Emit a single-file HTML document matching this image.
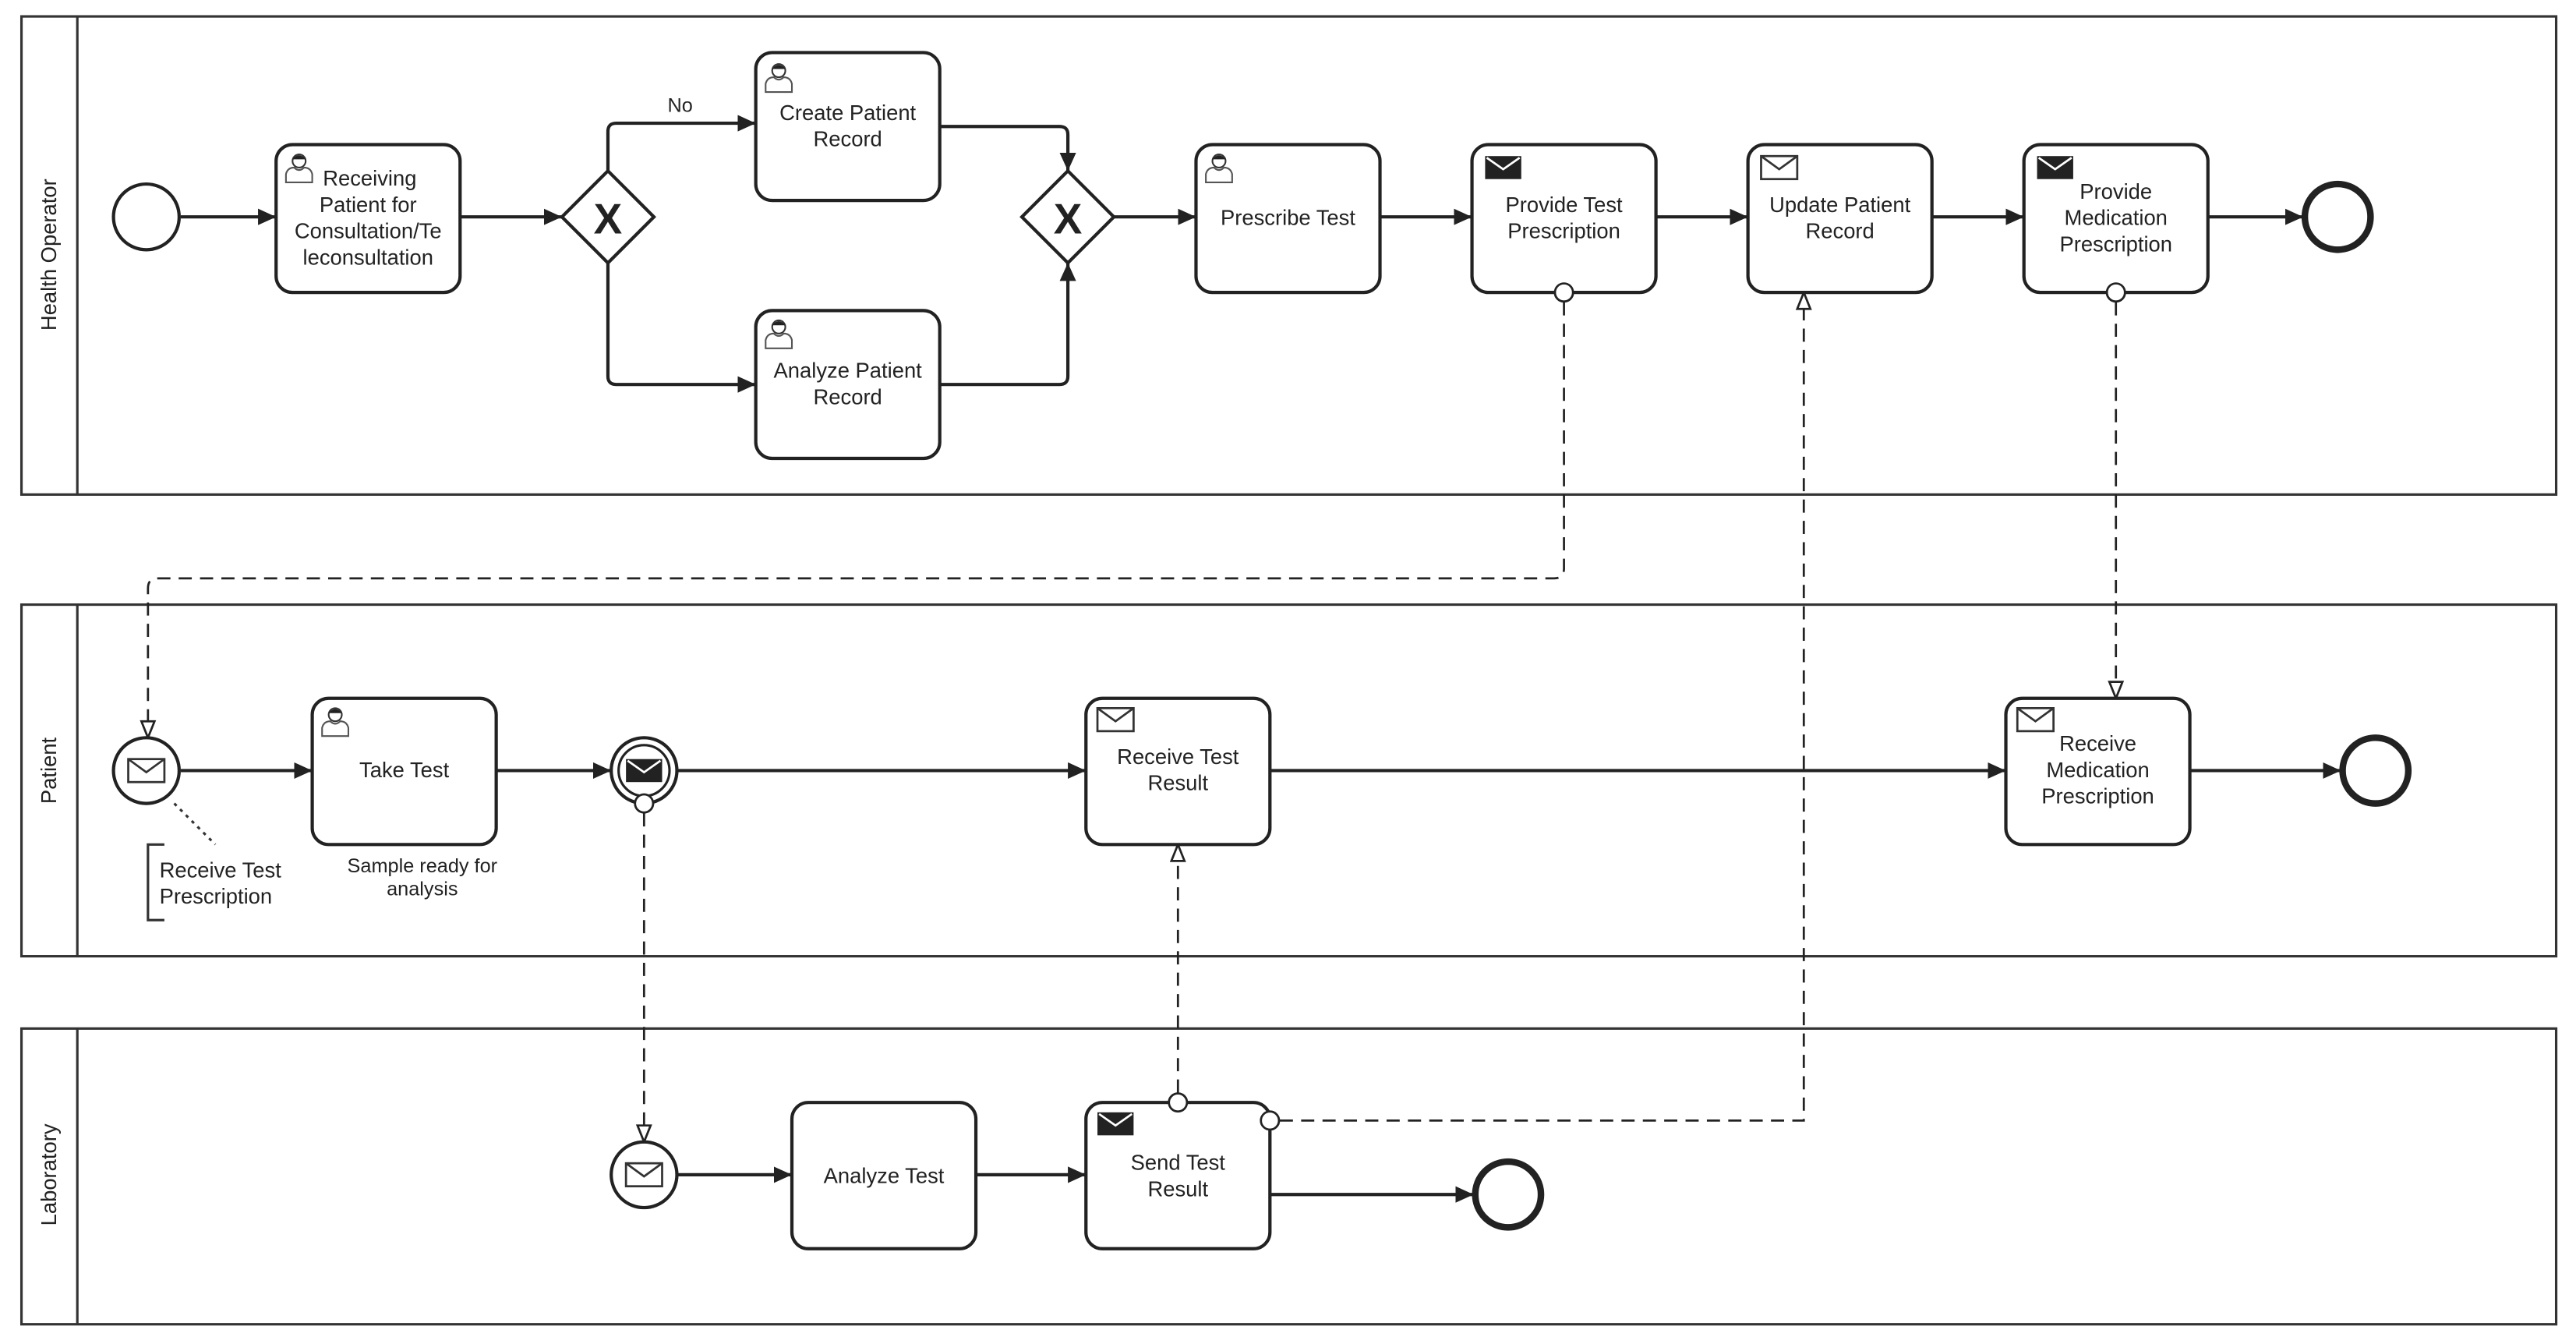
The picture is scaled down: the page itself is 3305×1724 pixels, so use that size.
<!DOCTYPE html>
<html><head><meta charset="utf-8"><style>
html,body{margin:0;padding:0;background:#fff}
svg{display:block}
text{font-family:"Liberation Sans",Arial,sans-serif;fill:#222}
</style></head><body>
<svg width="3305" height="1724" viewBox="0 0 1568 818" xmlns="http://www.w3.org/2000/svg">
<defs>
<marker id="a" markerWidth="12" markerHeight="12" refX="11" refY="6" orient="auto" markerUnits="userSpaceOnUse"><path d="M0,1 L11,6 L0,11 Z" fill="#222"/></marker>
<marker id="o" markerWidth="12" markerHeight="12" refX="11" refY="5" orient="auto" markerUnits="userSpaceOnUse"><path d="M1,1 L11,5 L1,9 Z" fill="#fff" stroke="#222" stroke-width="1.3"/></marker>
<g id="user"><circle cx="9" cy="6" r="4" fill="#fff" stroke="#333" stroke-width="1"/><path d="M5,5 Q9,0 13,5 Z" fill="#222"/><path d="M1,19 L1,14 Q2,10 6,10 Q9,13 12,10 Q16,10 17,14 L17,19 Z" fill="#fff" stroke="#555" stroke-width="1"/></g>
<g id="envf"><rect x="0" y="0" width="22" height="14" fill="#222"/><path d="M1,1 L11,8 L21,1" fill="none" stroke="#fff" stroke-width="1.3"/></g>
<g id="envo"><rect x="0" y="0" width="22" height="14" fill="#fff" stroke="#333" stroke-width="1.3"/><path d="M0,0 L11,8 L22,0" fill="none" stroke="#333" stroke-width="1.3"/></g>
</defs>
<g fill="none" stroke="#333" stroke-width="1.5">
<rect x="13" y="10" width="1543" height="291"/><line x1="47" y1="10" x2="47" y2="301"/>
<rect x="13" y="368" width="1543" height="214"/><line x1="47" y1="368" x2="47" y2="582"/>
<rect x="13" y="626" width="1543" height="180"/><line x1="47" y1="626" x2="47" y2="806"/>
</g>
<g font-size="13" text-anchor="middle">
<text transform="translate(34,155) rotate(-90)">Health Operator</text>
<text transform="translate(34,469) rotate(-90)">Patient</text>
<text transform="translate(34,715) rotate(-90)">Laboratory</text>
</g>
<!-- sequence flows -->
<g fill="none" stroke="#222" stroke-width="2" marker-end="url(#a)">
<path d="M110,132 H168"/><path d="M280,132 H342"/>
<path d="M370,104 V80 Q370,75 375,75 H460"/>
<path d="M370,160 V229 Q370,234 375,234 H460"/>
<path d="M572,77 H645 Q650,77 650,82 V104"/>
<path d="M572,234 H645 Q650,234 650,229 V160"/>
<path d="M678,132 H728"/><path d="M840,132 H896"/><path d="M1008,132 H1064"/><path d="M1176,132 H1232"/><path d="M1344,132 H1402"/>
<path d="M110,469 H190"/><path d="M302,469 H372"/><path d="M412,469 H661"/><path d="M773,469 H1221"/><path d="M1333,469 H1425"/>
<path d="M412,715 H482"/><path d="M594,715 H661"/><path d="M773,727 H897"/>
</g>
<text x="414" y="68" font-size="12" text-anchor="middle">No</text>
<!-- message flows -->
<g fill="none" stroke="#222" stroke-width="1.3" stroke-dasharray="8,5" marker-end="url(#o)">
<path d="M952,184 V346 Q952,352 946,352 H96 Q90,352 90,358 V449"/>
<path d="M779,682 H1098 V178"/>
<path d="M1288,184 V425"/>
<path d="M392,495 V695"/>
<path d="M717,665 V514"/>
</g>
<g fill="#fff" stroke="#222" stroke-width="1.3">
<circle cx="952" cy="178" r="5.5"/><circle cx="1288" cy="178" r="5.5"/><circle cx="773" cy="682" r="5.5"/><circle cx="392" cy="489" r="5.5"/><circle cx="717" cy="671" r="5.5"/>
</g>
<!-- events -->
<g fill="#fff" stroke="#222">
<circle cx="89" cy="132" r="20" stroke-width="2"/>
<circle cx="1423" cy="132" r="20" stroke-width="4"/>
<circle cx="89" cy="469" r="20" stroke-width="2"/>
<circle cx="392" cy="469" r="20" stroke-width="2"/>
<circle cx="392" cy="469" r="15.5" stroke-width="1.5"/>
<circle cx="1446" cy="469" r="20" stroke-width="4"/>
<circle cx="392" cy="715" r="20" stroke-width="2"/>
<circle cx="918" cy="727" r="20" stroke-width="4"/>
</g>
<circle cx="392" cy="489" r="5.5" fill="#fff" stroke="#222" stroke-width="1.3"/>
<use href="#envo" x="78" y="462"/><use href="#envf" x="381" y="462"/><use href="#envo" x="381" y="708"/>
<!-- gateways -->
<g fill="#fff" stroke="#222" stroke-width="2">
<path d="M370,104 L398,132 L370,160 L342,132 Z"/><path d="M650,104 L678,132 L650,160 L622,132 Z"/>
</g>
<g font-size="26" font-weight="bold" text-anchor="middle"><text x="370" y="142">X</text><text x="650" y="142">X</text></g>
<!-- tasks -->
<g fill="#fff" stroke="#222" stroke-width="2">
<rect x="168" y="88" width="112" height="90" rx="10"/>
<rect x="460" y="32" width="112" height="90" rx="10"/>
<rect x="460" y="189" width="112" height="90" rx="10"/>
<rect x="728" y="88" width="112" height="90" rx="10"/>
<rect x="896" y="88" width="112" height="90" rx="10"/>
<rect x="1064" y="88" width="112" height="90" rx="10"/>
<rect x="1232" y="88" width="112" height="90" rx="10"/>
<rect x="190" y="425" width="112" height="89" rx="10"/>
<rect x="661" y="425" width="112" height="89" rx="10"/>
<rect x="1221" y="425" width="112" height="89" rx="10"/>
<rect x="482" y="671" width="112" height="89" rx="10"/>
<rect x="661" y="671" width="112" height="89" rx="10"/>
</g>
<circle cx="952" cy="178" r="5.5" fill="#fff" stroke="#222" stroke-width="1.3"/>
<circle cx="1288" cy="178" r="5.5" fill="#fff" stroke="#222" stroke-width="1.3"/>
<circle cx="717" cy="671" r="5.5" fill="#fff" stroke="#222" stroke-width="1.3"/>
<circle cx="773" cy="682" r="5.5" fill="#fff" stroke="#222" stroke-width="1.3"/>
<use href="#user" x="173" y="92"/><use href="#user" x="465" y="37"/><use href="#user" x="465" y="193"/><use href="#user" x="733" y="92"/><use href="#user" x="195" y="429"/>
<use href="#envf" x="904" y="95"/><use href="#envo" x="1072" y="95"/><use href="#envf" x="1240" y="95"/>
<use href="#envo" x="668" y="431"/><use href="#envo" x="1228" y="431"/><use href="#envf" x="668" y="677"/>
<g font-size="13" text-anchor="middle">
<text x="225" y="113">Receiving</text><text x="224" y="129">Patient for</text><text x="224" y="145">Consultation/Te</text><text x="224" y="161">leconsultation</text>
<text x="516" y="73">Create Patient</text><text x="516" y="89">Record</text>
<text x="516" y="230">Analyze Patient</text><text x="516" y="246">Record</text>
<text x="784" y="137">Prescribe Test</text>
<text x="952" y="129">Provide Test</text><text x="952" y="145">Prescription</text>
<text x="1120" y="129">Update Patient</text><text x="1120" y="145">Record</text>
<text x="1288" y="121">Provide</text><text x="1288" y="137">Medication</text><text x="1288" y="153">Prescription</text>
<text x="246" y="473">Take Test</text>
<text x="717" y="465">Receive Test</text><text x="717" y="481">Result</text>
<text x="1277" y="457">Receive</text><text x="1277" y="473">Medication</text><text x="1277" y="489">Prescription</text>
<text x="538" y="720">Analyze Test</text>
<text x="717" y="712">Send Test</text><text x="717" y="728">Result</text>
</g>
<g font-size="12" text-anchor="middle"><text x="257" y="531">Sample ready for</text><text x="257" y="545">analysis</text></g>
<path d="M106,489 L131,514" stroke="#333" stroke-width="1.5" stroke-dasharray="2,3" fill="none"/>
<path d="M100,514 H90 V560 H100" stroke="#333" stroke-width="1.5" fill="none"/>
<g font-size="13"><text x="97" y="534">Receive Test</text><text x="97" y="550">Prescription</text></g>
</svg>
</body></html>
